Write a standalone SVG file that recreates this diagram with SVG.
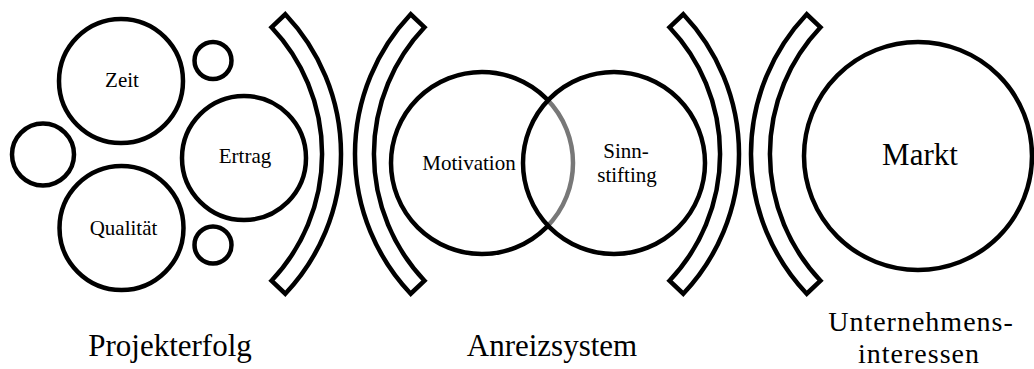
<svg xmlns="http://www.w3.org/2000/svg" width="1034" height="369" viewBox="0 0 1034 369">
  <style>
    .c { fill: none; stroke: #000; stroke-width: 4.5; }
    .b { fill: #fff; stroke: #000; stroke-width: 4.5; stroke-linejoin: miter; }
    .t { font-family: "Liberation Serif", "Times New Roman", serif; fill: #000; text-anchor: middle; }
    .s { font-size: 21px; }
    .l { font-size: 31px; }
    .m { font-size: 28px; letter-spacing: 1px; }
  </style>
  <rect width="1034" height="369" fill="#fff"/>

  <g id="projekterfolg-group">
    <g id="node-zeit">
      <circle class="c" cx="121" cy="81" r="62"/>
      <text class="t s" x="122" y="87">Zeit</text>
    </g>
    <g id="node-qualitaet">
      <circle class="c" cx="121.5" cy="228" r="62"/>
      <text class="t s" x="123.5" y="235">Qualität</text>
    </g>
    <g id="node-ertrag">
      <circle class="c" cx="244" cy="158" r="62"/>
      <text class="t s" x="245" y="163">Ertrag</text>
    </g>
    <g id="node-small-left"><circle class="c" cx="43" cy="154.5" r="31"/></g>
    <g id="node-small-top"><circle class="c" cx="213" cy="60.5" r="18.5"/></g>
    <g id="node-small-bottom"><circle class="c" cx="213" cy="245" r="18.5"/></g>
  </g>

  <g id="brackets">
    <path id="bracket-1" class="b" d="M 285.3,14.3 A 203 203 0 0 1 285.3,293.7 L 271.5,280.7 A 184 184 0 0 0 271.5,27.3 Z"/>
    <path id="bracket-2" class="b" d="M 410.7,14.3 A 203 203 0 0 0 410.7,293.7 L 424.5,280.7 A 184 184 0 0 1 424.5,27.3 Z"/>
    <path id="bracket-3" class="b" d="M 683.3,14.3 A 203 203 0 0 1 683.3,293.7 L 669.5,280.7 A 184 184 0 0 0 669.5,27.3 Z"/>
    <path id="bracket-4" class="b" d="M 806.7,14.3 A 203 203 0 0 0 806.7,293.7 L 820.5,280.7 A 184 184 0 0 1 820.5,27.3 Z"/>
  </g>

  <g id="anreizsystem-group">
    <g id="node-motivation">
      <circle class="c" cx="482" cy="163" r="91"/>
    </g>
    <g id="node-sinnstiftung">
      <circle cx="614" cy="163" r="91" fill="#fff" fill-opacity="0.47" stroke="#000" stroke-width="4.5"/>
      <text class="t s" x="626" y="158">Sinn-</text>
      <text class="t s" x="627" y="182">stifting</text>
    </g>
    <text class="t s" x="469" y="170">Motivation</text>
  </g>

  <g id="node-markt">
    <circle class="c" cx="918" cy="156" r="114"/>
    <text class="t l" x="920" y="165">Markt</text>
  </g>

  <g id="labels">
    <text id="label-projekterfolg" class="t l" x="170" y="356">Projekterfolg</text>
    <text id="label-anreizsystem" class="t l" x="552" y="356">Anreizsystem</text>
    <text id="label-unternehmens" class="t m" x="921" y="331">Unternehmens-</text>
    <text id="label-interessen" class="t m" x="919" y="362.5">interessen</text>
  </g>
</svg>
